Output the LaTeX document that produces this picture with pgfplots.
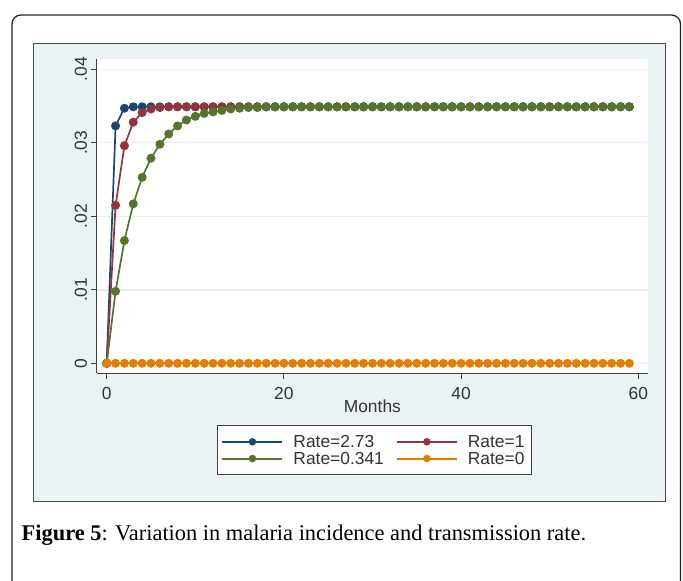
\documentclass[border=0pt]{standalone}
\usepackage{fontspec}
\setmainfont{Liberation Serif}
\newfontfamily\arial{Liberation Sans}
\usepackage{pgfplots}
\pgfplotsset{compat=1.18}
\usepackage{pgfplotstable}
\definecolor{stnavy}{RGB}{26,71,111}
\definecolor{stmaroon}{RGB}{144,53,59}
\definecolor{stgreen}{RGB}{85,117,47}
\definecolor{storange}{RGB}{227,126,0}
\definecolor{stbg}{RGB}{234,242,243}
\definecolor{stgrid}{RGB}{230,238,240}
\pgfplotstableread{
x b r g o
0 0 0 0 0
1 0.0323 0.0215 0.0098 0
2 0.0347 0.0296 0.0167 0
3 0.0349 0.0328 0.0217 0
4 0.0349 0.0341 0.0253 0
5 0.0349 0.0346 0.0279 0
6 0.0349 0.0348 0.0298 0
7 0.0349 0.0349 0.0312 0
8 0.0349 0.0349 0.0323 0
9 0.0349 0.0349 0.0331 0
10 0.0349 0.0349 0.0336 0
11 0.0349 0.0349 0.0340 0
12 0.0349 0.0349 0.0342 0
13 0.0349 0.0349 0.0344 0
14 0.0349 0.0349 0.0346 0
15 0.0349 0.0349 0.0347 0
16 0.0349 0.0349 0.0348 0
17 0.0349 0.0349 0.0348 0
18 0.0349 0.0349 0.0349 0
19 0.0349 0.0349 0.0349 0
20 0.0349 0.0349 0.0349 0
21 0.0349 0.0349 0.0349 0
22 0.0349 0.0349 0.0349 0
23 0.0349 0.0349 0.0349 0
24 0.0349 0.0349 0.0349 0
25 0.0349 0.0349 0.0349 0
26 0.0349 0.0349 0.0349 0
27 0.0349 0.0349 0.0349 0
28 0.0349 0.0349 0.0349 0
29 0.0349 0.0349 0.0349 0
30 0.0349 0.0349 0.0349 0
31 0.0349 0.0349 0.0349 0
32 0.0349 0.0349 0.0349 0
33 0.0349 0.0349 0.0349 0
34 0.0349 0.0349 0.0349 0
35 0.0349 0.0349 0.0349 0
36 0.0349 0.0349 0.0349 0
37 0.0349 0.0349 0.0349 0
38 0.0349 0.0349 0.0349 0
39 0.0349 0.0349 0.0349 0
40 0.0349 0.0349 0.0349 0
41 0.0349 0.0349 0.0349 0
42 0.0349 0.0349 0.0349 0
43 0.0349 0.0349 0.0349 0
44 0.0349 0.0349 0.0349 0
45 0.0349 0.0349 0.0349 0
46 0.0349 0.0349 0.0349 0
47 0.0349 0.0349 0.0349 0
48 0.0349 0.0349 0.0349 0
49 0.0349 0.0349 0.0349 0
50 0.0349 0.0349 0.0349 0
51 0.0349 0.0349 0.0349 0
52 0.0349 0.0349 0.0349 0
53 0.0349 0.0349 0.0349 0
54 0.0349 0.0349 0.0349 0
55 0.0349 0.0349 0.0349 0
56 0.0349 0.0349 0.0349 0
57 0.0349 0.0349 0.0349 0
58 0.0349 0.0349 0.0349 0
59 0.0349 0.0349 0.0349 0
}\datatab
\begin{document}
\begin{tikzpicture}
\useasboundingbox (0pt,0pt) rectangle (683pt,-581pt);
\begin{scope}
\clip (0pt,0pt) rectangle (683pt,-581pt);
\draw[black!85, line width=1.3pt, rounded corners=9pt] (12pt,-620pt) -- (12pt,-15pt) -- (680.5pt,-15pt) -- (680.5pt,-620pt);
\end{scope}
\filldraw[fill=stbg, draw=black!70, line width=0.9pt] (33.5pt,-43pt) rectangle (665.5pt,-501pt);
\begin{axis}[
  at={(96.7pt,-373.3pt)}, anchor=south west,
  scale only axis, width=551.3pt, height=314.3pt,
  xmin=-1.13, xmax=61.1, ymin=-0.00136, ymax=0.0414,
  scaled y ticks=false, scaled x ticks=false,
  axis x line*=bottom, axis y line*=left,
  axis line style={-, black!75, line width=0.9pt},
  axis background/.style={fill=white},
  xtick={0,20,40,60}, xticklabels={0,20,40,60},
  ytick={0,0.01,0.02,0.03,0.04}, yticklabels={0,.01,.02,.03,.04},
  tick align=outside, major tick length=5.5pt,
  tick style={black!75, line width=0.9pt},
  ymajorgrids, grid style={stgrid, line width=1.4pt},
  ticklabel style={font=\arial\fontsize{17.4}{20}\selectfont, text=black!80},
  yticklabel style={rotate=90, anchor=south, inner sep=0pt},
  yticklabel shift=4pt,
  xticklabel style={anchor=north, inner sep=0pt},
  xticklabel shift=8pt,
  xlabel={Months},
  xlabel style={at={(axis description cs:0.5,-0.1063)}, anchor=center, inner sep=0pt, font=\arial\fontsize{17.4}{20}\selectfont, text=black!80},
  legend columns=2, legend cell align=left,
  legend image code/.code={
    \draw[mark repeat=2, mark phase=2, #1, line width=2pt, mark size=2.7pt] plot coordinates {(0pt,0pt) (30pt,0pt) (60pt,0pt)};
  },
  legend style={at={(axis description cs:0.2182,-0.1645)}, anchor=north west,
    draw=black!75, line width=0.9pt, fill=white,
    font=\arial\fontsize{17.4}{20}\selectfont, text=black!80,
    inner xsep=4pt, inner ysep=8pt, row sep=0pt,
    nodes={inner xsep=3pt, inner ysep=2pt, text height=12.5pt, text depth=0.2pt},
    /tikz/every odd column/.append style={column sep=7pt},
    /tikz/every even column/.append style={column sep=9pt}},
]
\addplot[color=stnavy, line width=1.7pt, mark=*, mark size=3.6pt] table[x=x,y=b]{\datatab};
\addlegendentry{Rate=2.73}
\addplot[color=stmaroon, line width=1.7pt, mark=*, mark size=3.6pt] table[x=x,y=r]{\datatab};
\addlegendentry{Rate=1}
\addplot[color=stgreen, line width=1.7pt, mark=*, mark size=3.6pt] table[x=x,y=g]{\datatab};
\addlegendentry{Rate=0.341}
\addplot[color=storange, line width=1.7pt, mark=*, mark size=3.6pt] table[x=x,y=o]{\datatab};
\addlegendentry{Rate=0}
\end{axis}
\node[anchor=base west, inner sep=0pt, font=\fontsize{22.4}{26}\selectfont] at (21.5pt,-540pt) {\textbf{Figure 5}: Variation in malaria incidence and transmission rate.};
\end{tikzpicture}
\end{document}
